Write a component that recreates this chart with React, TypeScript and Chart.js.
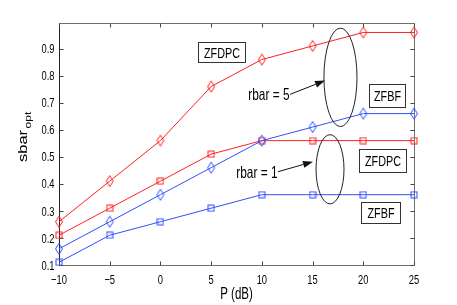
import React, { useEffect, useRef } from 'react';
import { Chart, registerables } from 'chart.js';

Chart.register(...registerables);

// ---- data ----
const P_DB = [-10, -5, 0, 5, 10, 15, 20, 25];
const ZFDPC_R5 = [0.26, 0.41, 0.56, 0.76, 0.86, 0.91, 0.96, 0.96];
const ZFBF_R5 = [0.16, 0.26, 0.36, 0.46, 0.56, 0.61, 0.66, 0.66];
const ZFDPC_R1 = [0.21, 0.31, 0.41, 0.51, 0.56, 0.56, 0.56, 0.56];
const ZFBF_R1 = [0.11, 0.21, 0.26, 0.31, 0.36, 0.36, 0.36, 0.36];

const X_TICKS = [-10, -5, 0, 5, 10, 15, 20, 25];
const Y_TICKS = [0.1, 0.2, 0.3, 0.4, 0.5, 0.6, 0.7, 0.8, 0.9];
const X_LABEL = 'P (dB)';
const Y_LABEL = 'sbar';
const Y_LABEL_SUB = 'opt';

// annotations (in data units)
const BOXES = [
  { text: 'ZFDPC', x0: 3.7, x1: 8.34, y0: 0.849, y1: 0.923 },
  { text: 'ZFBF', x0: 20.56, x1: 24.11, y0: 0.686, y1: 0.768 },
  { text: 'ZFDPC', x0: 19.58, x1: 24.21, y0: 0.445, y1: 0.530 },
  { text: 'ZFBF', x0: 19.77, x1: 23.62, y0: 0.256, y1: 0.334 },
];
const ELLIPSES = [
  { cx: 17.75, cy: 0.794, rx: 1.63, ry: 0.182 },
  { cx: 16.72, cy: 0.454, rx: 1.38, ry: 0.128 },
];
const ARROWS = [
  { text: 'rbar = 5', x0: 12.78, y0: 0.731, x1: 16.23, y1: 0.782 },
  { text: 'rbar = 1', x0: 11.59, y0: 0.445, x1: 15.04, y1: 0.482 },
];

const RED = '#ff2020';
const BLUE = '#2f4fff';
const SX = 0.72;
const FONT = '"Liberation Sans", Arial, Helvetica, sans-serif';

function makeDiamond(color: string) {
  const c = document.createElement('canvas');
  c.width = 10; c.height = 14;
  const g = c.getContext('2d')!;
  g.strokeStyle = color; g.lineWidth = 1;
  g.beginPath();
  g.moveTo(5, 1.5); g.lineTo(8.5, 7); g.lineTo(5, 12.5); g.lineTo(1.5, 7); g.closePath();
  g.stroke();
  return c;
}
function makeSquare(color: string) {
  const c = document.createElement('canvas');
  c.width = 8; c.height = 8;
  const g = c.getContext('2d')!;
  g.strokeStyle = color; g.lineWidth = 1;
  g.strokeRect(1, 1, 6, 6);
  return c;
}

function txt(ctx: CanvasRenderingContext2D, s: string, x: number, y: number, size: number, align: CanvasTextAlign) {
  ctx.save();
  ctx.translate(x, y);
  ctx.scale(SX, 1);
  ctx.font = `${size}px ${FONT}`;
  ctx.textAlign = align;
  ctx.textBaseline = 'alphabetic';
  ctx.fillStyle = '#000';
  ctx.fillText(s, 0, 0);
  ctx.restore();
}

const fmtX = (v: number) => (v < 0 ? '\u2212' + String(-v) : String(v));

const framePlugin = {
  id: 'frame',
  beforeDatasetsDraw(chart: any) {
    const ctx: CanvasRenderingContext2D = chart.ctx;
    const { left, right, top, bottom } = chart.chartArea;
    const xs = chart.scales.x, ys = chart.scales.y;
    const L = Math.round(left) + 0.5, R = Math.round(right) + 0.5;
    const T = Math.round(top) + 0.5, B = Math.round(bottom) + 0.5;
    ctx.save();
    ctx.lineWidth = 1;
    ctx.strokeStyle = '#707070';
    ctx.beginPath();
    ctx.moveTo(L, T); ctx.lineTo(R, T); ctx.lineTo(R, B); ctx.lineTo(L, B);
    ctx.stroke();
    ctx.strokeStyle = '#222';
    ctx.beginPath(); ctx.moveTo(L, T); ctx.lineTo(L, B); ctx.stroke();
    // ticks
    ctx.strokeStyle = '#444';
    ctx.beginPath();
    X_TICKS.forEach(v => {
      const px = Math.round(xs.getPixelForValue(v)) + 0.5;
      ctx.moveTo(px, B); ctx.lineTo(px, B - 4);
      ctx.moveTo(px, T); ctx.lineTo(px, T + 4);
    });
    Y_TICKS.forEach(v => {
      const py = Math.round(ys.getPixelForValue(v)) + 0.5;
      ctx.moveTo(L, py); ctx.lineTo(L + 4, py);
      ctx.moveTo(R, py); ctx.lineTo(R - 4, py);
    });
    ctx.stroke();
    ctx.restore();

    // tick labels
    X_TICKS.forEach(v => txt(ctx, fmtX(v), xs.getPixelForValue(v), 284, 13, 'center'));
    Y_TICKS.forEach(v => txt(ctx, v.toFixed(1), L - 5, ys.getPixelForValue(v) + 4.6, 13, 'right'));
    // axis titles
    txt(ctx, X_LABEL, (left + right) / 2, 298.5, 16, 'center');
    ctx.save();
    ctx.translate(26.7, 162);
    ctx.rotate(-Math.PI / 2);
    ctx.scale(1, SX);
    ctx.fillStyle = '#000';
    ctx.textBaseline = 'alphabetic';
    ctx.textAlign = 'left';
    ctx.font = `16.5px ${FONT}`;
    ctx.fillText(Y_LABEL, 0, 0);
    const w1 = ctx.measureText(Y_LABEL).width;
    ctx.font = `12px ${FONT}`;
    ctx.fillText(Y_LABEL_SUB, w1 + 1.5, 6.5);
    ctx.restore();
  },
  afterDatasetsDraw(chart: any) {
    const ctx: CanvasRenderingContext2D = chart.ctx;
    const xs = chart.scales.x, ys = chart.scales.y;
    const X = (v: number) => xs.getPixelForValue(v);
    const Y = (v: number) => ys.getPixelForValue(v);
    ctx.save();
    // boxes
    BOXES.forEach(b => {
      const x0 = Math.round(X(b.x0)) + 0.5, x1 = Math.round(X(b.x1)) + 0.5;
      const y0 = Math.round(Y(b.y1)) + 0.5, y1 = Math.round(Y(b.y0)) + 0.5;
      ctx.fillStyle = '#fff';
      ctx.fillRect(x0, y0, x1 - x0, y1 - y0);
      ctx.strokeStyle = '#333';
      ctx.lineWidth = 1;
      ctx.strokeRect(x0, y0, x1 - x0, y1 - y0);
      txt(ctx, b.text, (x0 + x1) / 2, (y0 + y1) / 2 + 5.4, 15, 'center');
    });
    // ellipses
    ELLIPSES.forEach(e => {
      const cx = X(e.cx), cy = Y(e.cy);
      const rx = Math.abs(X(e.cx + e.rx) - cx), ry = Math.abs(Y(e.cy + e.ry) - cy);
      ctx.beginPath();
      ctx.ellipse(cx, cy, rx, ry, 0, 0, Math.PI * 2);
      ctx.strokeStyle = '#222';
      ctx.lineWidth = 1;
      ctx.stroke();
    });
    // arrows
    ARROWS.forEach(a => {
      const x0 = X(a.x0), y0 = Y(a.y0), x1 = X(a.x1), y1 = Y(a.y1);
      const ang = Math.atan2(y1 - y0, x1 - x0);
      const hl = 10, hw = 3.5;
      const bx = x1 - hl * Math.cos(ang), by = y1 - hl * Math.sin(ang);
      ctx.strokeStyle = '#111';
      ctx.lineWidth = 1;
      ctx.beginPath(); ctx.moveTo(x0, y0); ctx.lineTo(bx, by); ctx.stroke();
      ctx.fillStyle = '#111';
      ctx.beginPath();
      ctx.moveTo(x1, y1);
      ctx.lineTo(bx + hw * Math.sin(ang), by - hw * Math.cos(ang));
      ctx.lineTo(bx - hw * Math.sin(ang), by + hw * Math.cos(ang));
      ctx.closePath();
      ctx.fill();
      txt(ctx, a.text, x0 - 0.5, y0 + 5.8, 16.5, 'right');
    });
    ctx.restore();
  },
};

export default function App() {
  const ref = useRef<HTMLCanvasElement>(null);
  useEffect(() => {
    document.body.style.margin = '0';
    const pts = (ys: number[]) => P_DB.map((x, i) => ({ x, y: ys[i] }));
    const ds = (label: string, ys: number[], color: string, marker: HTMLCanvasElement) => ({
      label,
      data: pts(ys),
      borderColor: color,
      borderWidth: 1,
      pointStyle: marker,
      pointRadius: 4,
      tension: 0,
      fill: false,
      clip: false as any,
    });
    const chart = new Chart(ref.current!, {
      type: 'line',
      data: {
        datasets: [
          ds('ZFDPC rbar=5', ZFDPC_R5, RED, makeDiamond(RED)),
          ds('ZFBF rbar=5', ZFBF_R5, BLUE, makeDiamond(BLUE)),
          ds('ZFDPC rbar=1', ZFDPC_R1, RED, makeSquare(RED)),
          ds('ZFBF rbar=1', ZFBF_R1, BLUE, makeSquare(BLUE)),
        ],
      },
      options: {
        animation: false,
        responsive: false,
        devicePixelRatio: 1,
        layout: { padding: { top: 23, right: 43, left: 0, bottom: 0 } },
        plugins: { legend: { display: false }, tooltip: { enabled: false } },
        events: [],
        scales: {
          x: {
            type: 'linear', min: -10, max: 25,
            afterBuildTicks: (s: any) => { s.ticks = X_TICKS.map(v => ({ value: v })); },
            afterFit: (s: any) => { s.height = 40; },
            ticks: { display: false },
            grid: { display: false },
            border: { display: false },
          },
          y: {
            type: 'linear', min: 0.1, max: 0.995,
            afterBuildTicks: (s: any) => { s.ticks = Y_TICKS.map(v => ({ value: v })); },
            afterFit: (s: any) => { s.width = 59; },
            ticks: { display: false },
            grid: { display: false },
            border: { display: false },
          },
        },
      },
      plugins: [framePlugin],
    });
    return () => chart.destroy();
  }, []);
  return <canvas ref={ref} width={457} height={305} style={{ display: 'block' }} />;
}
